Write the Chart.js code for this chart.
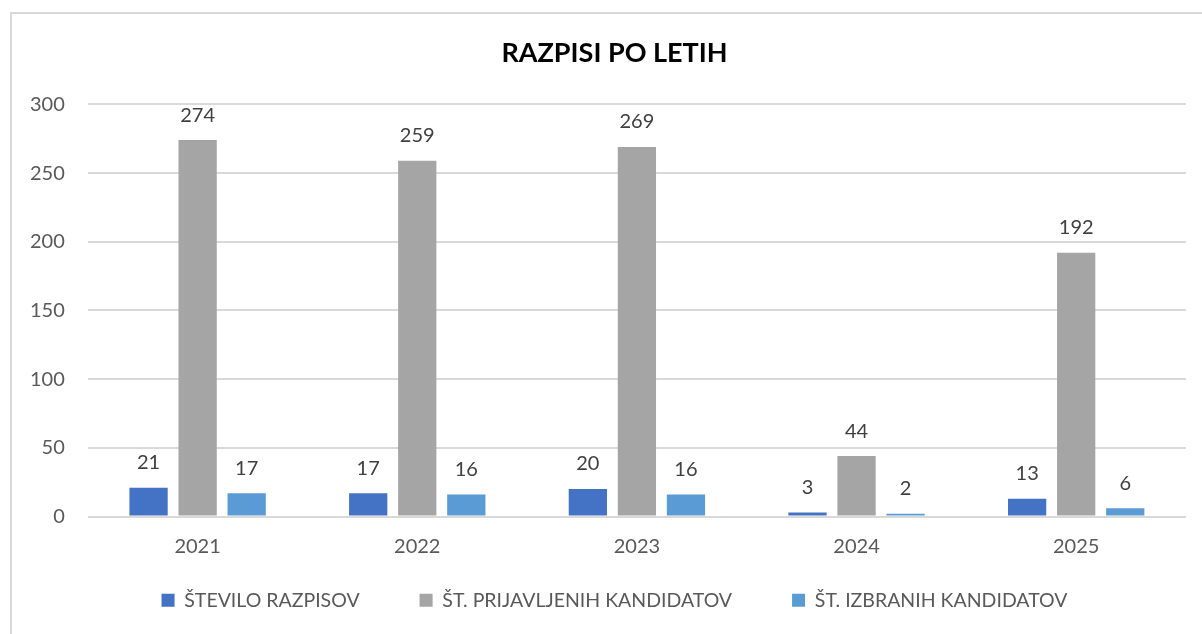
<!DOCTYPE html>
<html lang="sl">
<head>
    <meta charset="UTF-8">
    <title>Razpisi po letih</title>
    <script src="https://cdn.jsdelivr.net/npm/chart.js@4.4.1/dist/chart.umd.min.js"></script>
    <style>
        html, body {
            margin: 0;
            padding: 0;
            background: #ffffff;
            overflow: hidden;
        }
        .frame {
            position: absolute;
            left: 10px;
            top: 12px;
            width: 1300px;
            height: 700px;
            border-left: 2px solid #d9d9d9;
            border-top: 2px solid #d9d9d9;
        }
        .chart-box {
            position: absolute;
            left: 0;
            top: 0;
            width: 1202px;
            height: 634px;
        }
    </style>
</head>
<body>
    <div class="frame"></div>
    <div class="chart-box">
        <canvas id="razpisiChart"></canvas>
    </div>

    <script>
        // Data
        const years = ['2021', '2022', '2023', '2024', '2025'];
        const steviloRazpisov = [21, 17, 20, 3, 13];
        const prijavljeniKandidati = [274, 259, 269, 44, 192];
        const izbraniKandidati = [17, 16, 16, 2, 6];
        const yTicks = [0, 50, 100, 150, 200, 250, 300];

        const textColor = '#595959';
        const fontFamily = "Lato, 'Open Sans', sans-serif";
        const legendShift = 38;   // space taken back above the legend
        const headerOffset = 18;  // title and legend sit a bit right of the canvas centre

        // Small plugin that writes each value above its bar
        const valueLabels = {
            id: 'valueLabels',
            afterDatasetsDraw(chart) {
                const ctx = chart.ctx;
                ctx.save();
                ctx.font = '20px ' + fontFamily;
                ctx.fillStyle = '#404040';
                ctx.textAlign = 'center';
                ctx.textBaseline = 'bottom';
                chart.data.datasets.forEach((ds, i) => {
                    const meta = chart.getDatasetMeta(i);
                    meta.data.forEach((bar, j) => {
                        ctx.fillText(ds.data[j], bar.x, bar.y - 15);
                    });
                });
                ctx.restore();
            }
        };

        // The legend's label padding is used both between items and above them;
        // take back some of the space above so the plot can reach lower.
        const tightLegend = {
            id: 'tightLegend',
            beforeLayout(chart) {
                const lg = chart.legend;
                if (lg && !lg._tight) {
                    const fit = lg.fit.bind(lg);
                    lg.fit = function () {
                        fit();
                        this.height -= legendShift;
                    };
                    lg._tight = true;
                }
            },
            afterLayout(chart) {
                const lg = chart.legend;
                if (lg) {
                    lg.top -= legendShift;
                    lg.left += headerOffset;
                    lg.right += headerOffset;
                }
                const tb = chart.titleBlock;
                if (tb) {
                    tb.left += headerOffset;
                    tb.right += headerOffset;
                }
            }
        };

        const ctx = document.getElementById('razpisiChart').getContext('2d');

        new Chart(ctx, {
            type: 'bar',
            data: {
                labels: years,
                datasets: [
                    {
                        label: 'ŠTEVILO RAZPISOV',
                        data: steviloRazpisov,
                        backgroundColor: '#4472c4'
                    },
                    {
                        label: 'ŠT. PRIJAVLJENIH KANDIDATOV',
                        data: prijavljeniKandidati,
                        backgroundColor: '#a5a5a5'
                    },
                    {
                        label: 'ŠT. IZBRANIH KANDIDATOV',
                        data: izbraniKandidati,
                        backgroundColor: '#5b9bd5'
                    }
                ]
            },
            options: {
                responsive: true,
                maintainAspectRatio: false,
                animation: false,
                datasets: {
                    bar: {
                        categoryPercentage: 0.67,
                        barPercentage: 0.78,
                        borderWidth: 0
                    }
                },
                layout: {
                    padding: { left: 7, right: 16, top: 37, bottom: 14 }
                },
                scales: {
                    x: {
                        grid: { display: false },
                        border: { display: false },
                        ticks: {
                            color: textColor,
                            font: { family: fontFamily, size: 20 },
                            padding: 10
                        }
                    },
                    y: {
                        min: 0,
                        max: 300,
                        afterBuildTicks(axis) {
                            axis.ticks = yTicks.map(v => ({ value: v }));
                        },
                        grid: { color: '#d9d9d9', lineWidth: 2, drawTicks: false },
                        border: { display: false },
                        ticks: {
                            color: textColor,
                            font: { family: fontFamily, size: 20 },
                            padding: 23
                        }
                    }
                },
                plugins: {
                    title: {
                        display: true,
                        text: 'RAZPISI PO LETIH',
                        color: '#000000',
                        font: { family: fontFamily, size: 27, weight: 'bold' },
                        padding: { top: 0, bottom: 35 }
                    },
                    legend: {
                        position: 'bottom',
                        labels: {
                            color: textColor,
                            font: { family: fontFamily, size: 19.5 },
                            boxWidth: 13,
                            boxHeight: 13,
                            padding: 60
                        }
                    },
                    tooltip: { enabled: false }
                }
            },
            plugins: [valueLabels, tightLegend]
        });
    </script>
</body>
</html>
